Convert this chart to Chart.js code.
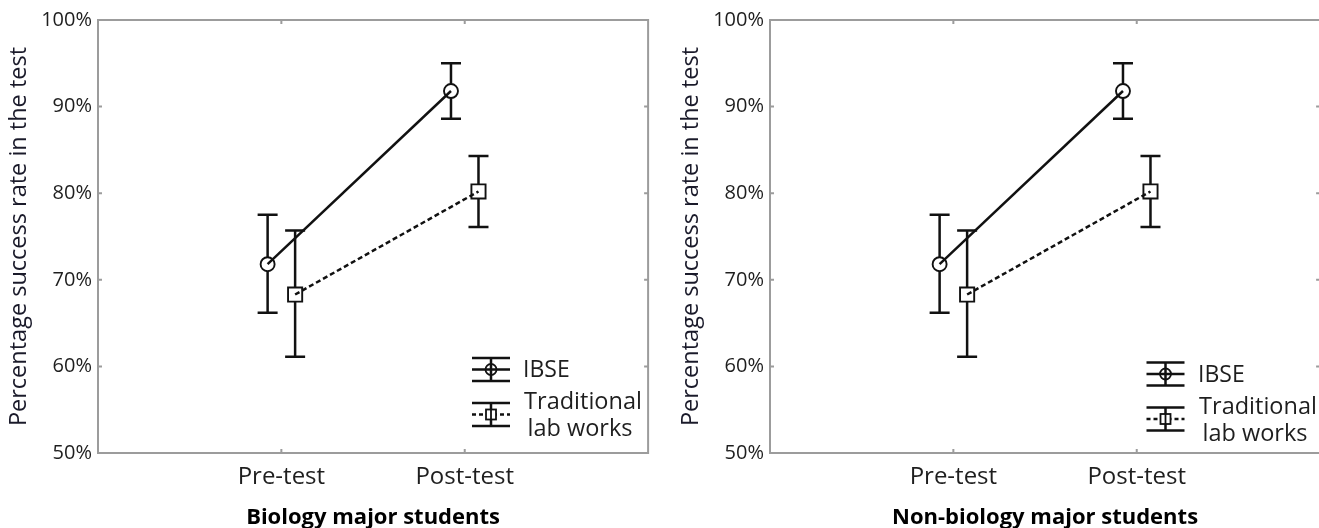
<!DOCTYPE html>
<html><head><meta charset="utf-8">
<script src="https://cdn.jsdelivr.net/npm/chart.js@4/dist/chart.umd.min.js"></script>
<style>
html,body{margin:0;padding:0;background:#fff;overflow:hidden;width:1319px;height:528px;position:relative;}
canvas{position:absolute;top:0;}
#c1{left:0;} #c2{left:672px;}
</style></head><body>
<canvas id="c1" width="660" height="528"></canvas>
<canvas id="c2" width="660" height="528"></canvas>
<script>
// ---- data ----
const categories = ['Pre-test', 'Post-test'];
const seriesNames = ['IBSE', 'Traditional lab works'];
const yTickValues = [50, 60, 70, 80, 90, 100];
const panelTitles = ['Biology major students', 'Non-biology major students'];
const yTitle = 'Percentage success rate in the test';

// Biology major students
const bioIBSE      = [71.8, 91.8];
const bioIBSELow   = [66.2, 88.6];
const bioIBSEHigh  = [77.5, 95.0];
const bioTrad      = [68.3, 80.2];
const bioTradLow   = [61.1, 76.1];
const bioTradHigh  = [75.7, 84.3];

// Non-biology major students
const nonIBSE      = [71.8, 91.8];
const nonIBSELow   = [66.2, 88.6];
const nonIBSEHigh  = [77.5, 95.0];
const nonTrad      = [68.3, 80.2];
const nonTradLow   = [61.1, 76.1];
const nonTradHigh  = [75.7, 84.3];

// ---- rendering ----
const FONT = '"Open Sans", "Noto Sans", sans-serif';
const INK = '#111';
const TXT = '#1e1e1e';

const errorBars = {
  id: 'errorBars',
  afterDatasetsDraw(chart) {
    const {ctx, scales: {y}} = chart;
    chart.data.datasets.forEach((d, di) => {
      const meta = chart.getDatasetMeta(di);
      meta.data.forEach((pt, i) => {
        const px = pt.x;
        const yHi = y.getPixelForValue(d.hi[i]);
        const yLo = y.getPixelForValue(d.lo[i]);
        const g = d.gap;
        ctx.save();
        ctx.strokeStyle = INK; ctx.lineWidth = 2.5; ctx.setLineDash([]);
        ctx.beginPath();
        ctx.moveTo(px, yHi); ctx.lineTo(px, pt.y - g);
        ctx.moveTo(px, pt.y + g); ctx.lineTo(px, yLo);
        ctx.moveTo(px - 10, yHi); ctx.lineTo(px + 10, yHi);
        ctx.moveTo(px - 10, yLo); ctx.lineTo(px + 10, yLo);
        ctx.stroke();
        ctx.restore();
      });
    });
  }
};

const frame = {
  id: 'frame',
  beforeDatasetsDraw(chart) {
    const {ctx, chartArea: a, scales: {x, y}} = chart;
    ctx.save();
    ctx.strokeStyle = '#9c9c9c'; ctx.lineWidth = 2;
    ctx.strokeRect(a.left, a.top, a.right - a.left, a.bottom - a.top);
    ctx.beginPath();
    x.ticks.forEach(t => {
      const px = x.getPixelForValue(t.value);
      ctx.moveTo(px, a.bottom); ctx.lineTo(px, a.bottom - 4);
      ctx.moveTo(px, a.top); ctx.lineTo(px, a.top + 4);
    });
    y.ticks.forEach(t => {
      const py = y.getPixelForValue(t.value);
      ctx.moveTo(a.left, py); ctx.lineTo(a.left + 4, py);
      ctx.moveTo(a.right, py); ctx.lineTo(a.right - 4, py);
    });
    ctx.stroke();
    ctx.restore();
  }
};

const customLegend = {
  id: 'customLegend',
  afterDraw(chart, args, o) {
    const {ctx, chartArea: a} = chart;
    const cx = a.left + o.x;
    const tx = a.left + o.tx;
    const half = 19, cap = 11.5;
    ctx.save();
    ctx.strokeStyle = INK; ctx.fillStyle = TXT;
    // IBSE
    let cy = a.bottom - o.y1;
    ctx.lineWidth = 2.5; ctx.setLineDash([]);
    ctx.beginPath();
    ctx.moveTo(cx - half, cy - cap); ctx.lineTo(cx + half, cy - cap);
    ctx.moveTo(cx - half, cy + cap); ctx.lineTo(cx + half, cy + cap);
    ctx.moveTo(cx, cy - cap); ctx.lineTo(cx, cy + cap);
    ctx.moveTo(cx - half, cy); ctx.lineTo(cx + half, cy);
    ctx.stroke();
    ctx.lineWidth = 1.8;
    ctx.beginPath(); ctx.arc(cx, cy, 5.5, 0, Math.PI * 2); ctx.stroke();
    ctx.font = '23px ' + FONT;
    ctx.textBaseline = 'middle'; ctx.textAlign = 'left';
    ctx.fillText(seriesNames[0], tx, cy + 1);
    // Traditional
    cy = a.bottom - o.y2;
    ctx.lineWidth = 2.5;
    ctx.beginPath();
    ctx.moveTo(cx - half, cy - cap); ctx.lineTo(cx + half, cy - cap);
    ctx.moveTo(cx - half, cy + cap); ctx.lineTo(cx + half, cy + cap);
    ctx.moveTo(cx, cy - cap); ctx.lineTo(cx, cy + cap);
    ctx.stroke();
    ctx.lineWidth = 2.3; ctx.setLineDash([4, 3]);
    ctx.beginPath(); ctx.moveTo(cx - half, cy); ctx.lineTo(cx + half, cy); ctx.stroke();
    ctx.setLineDash([]); ctx.lineWidth = 1.8;
    ctx.clearRect(cx - 5, cy - 5, 10, 10);
    ctx.strokeRect(cx - 5, cy - 5, 10, 10);
    ctx.beginPath(); ctx.moveTo(cx, cy - 5); ctx.lineTo(cx, cy + 5); ctx.stroke();
    const words = seriesNames[1].split(' ');
    ctx.font = '23.5px ' + FONT;
    ctx.textAlign = 'center';
    ctx.fillText(words[0], tx + 60, cy - 12);
    ctx.fillText(words.slice(1).join(' '), tx + 57, cy + 15);
    ctx.restore();
  }
};

function build(id, title, ibse, ibseLo, ibseHi, trad, tradLo, tradHi, legendPos) {
  const off = 0.075;
  return new Chart(document.getElementById(id), {
    type: 'line',
    data: {
      datasets: [
        {
          label: seriesNames[0],
          data: categories.map((c, i) => ({x: i + 1 - off, y: ibse[i]})),
          lo: ibseLo, hi: ibseHi, gap: 7,
          borderColor: INK, borderWidth: 2.5, tension: 0, fill: false,
          pointStyle: 'circle', pointRadius: 7, pointBorderWidth: 1.9,
          pointBorderColor: INK, pointBackgroundColor: 'rgba(0,0,0,0)'
        },
        {
          label: seriesNames[1],
          data: categories.map((c, i) => ({x: i + 1 + off, y: trad[i]})),
          lo: tradLo, hi: tradHi, gap: 7,
          borderColor: INK, borderWidth: 2.5, borderDash: [5, 3], tension: 0, fill: false,
          pointStyle: 'rect', pointRadius: 10, pointBorderWidth: 1.9,
          pointBorderColor: INK, pointBackgroundColor: 'rgba(0,0,0,0)'
        }
      ]
    },
    options: {
      responsive: false,
      animation: false,
      events: [],
      layout: {padding: {left: 0, right: 4, top: 20, bottom: 0}},
      plugins: {
        legend: {display: false},
        tooltip: {enabled: false},
        customLegend: legendPos
      },
      scales: {
        x: {
          type: 'linear', min: 0, max: 3,
          afterBuildTicks: s => { s.ticks = categories.map((c, i) => ({value: i + 1})); },
          afterFit: s => { s.height = 75; },
          grid: {display: false, drawTicks: false},
          border: {display: false},
          ticks: {
            callback: v => categories[v - 1],
            color: TXT, padding: 10,
            font: {family: FONT, size: 24}
          },
          title: {
            display: true, text: title, color: '#000',
            font: {family: FONT, size: 22, weight: 'bold', lineHeight: 0.95},
            padding: {top: 0, bottom: 0}
          }
        },
        y: {
          min: 50, max: 100,
          afterBuildTicks: s => { s.ticks = yTickValues.map(v => ({value: v})); },
          afterFit: s => { s.width = 98; },
          grid: {display: false, drawTicks: false},
          border: {display: false},
          ticks: {
            callback: v => v + '%',
            color: TXT, padding: 6,
            font: {family: FONT, size: 20}
          },
          title: {
            display: true, text: yTitle, color: '#1a1a2a',
            font: {family: FONT, size: 23.5, lineHeight: 1},
            padding: {top: 8, bottom: 0}
          }
        }
      }
    },
    plugins: [frame, errorBars, customLegend]
  });
}

build('c1', panelTitles[0], bioIBSE, bioIBSELow, bioIBSEHigh, bioTrad, bioTradLow, bioTradHigh,
      {x: 393, tx: 425, y1: 83.5, y2: 38.5});
build('c2', panelTitles[1], nonIBSE, nonIBSELow, nonIBSEHigh, nonTrad, nonTradLow, nonTradHigh,
      {x: 395.5, tx: 428, y1: 79, y2: 34});
</script>
</body></html>
